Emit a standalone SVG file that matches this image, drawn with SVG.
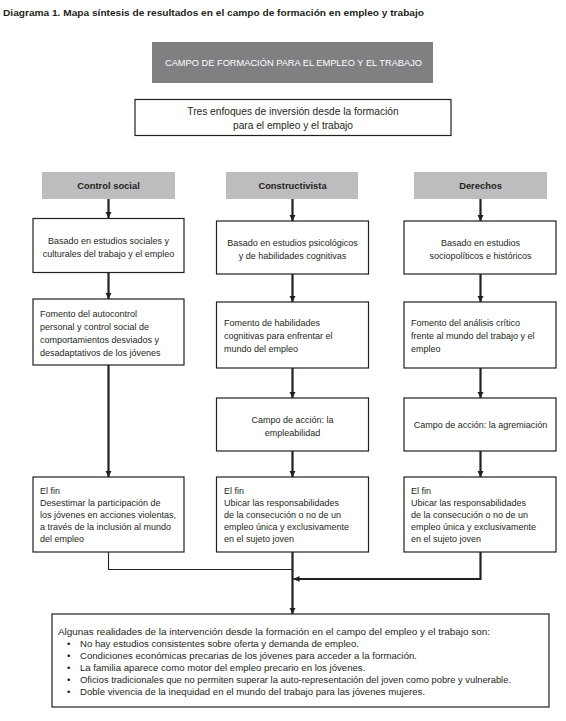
<svg xmlns="http://www.w3.org/2000/svg" width="566" height="721" viewBox="0 0 566 721">
<defs>
<style>
text{font-family:"Liberation Sans",Arial,sans-serif;fill:#231f20;}
.title{font-size:9.6px;font-weight:bold;}
.hdr{font-size:9.4px;fill:#ffffff;}
.col{font-size:9.4px;font-weight:bold;text-anchor:middle;}
.t{font-size:9px;}
.tb{font-size:9.6px;}
.tt{font-size:10.2px;}
.c{text-anchor:middle;}
.box{fill:#ffffff;stroke:#231f20;stroke-width:1.2;}
.gray{fill:#808083;}
.lgray{fill:#bdbdbf;}
.ln{fill:none;stroke:#231f20;stroke-width:2.2;}
.thin{fill:none;stroke:#231f20;stroke-width:1.1;}
</style>
<marker id="ah" viewBox="0 0 10 10" refX="10" refY="5" markerUnits="userSpaceOnUse" markerWidth="6" markerHeight="10" orient="auto">
<path d="M0,0 L10,5 L0,10 z" fill="#231f20"/>
</marker>
</defs>
<rect width="566" height="721" fill="#ffffff"/>
<text class="title" x="3" y="16" textLength="421" lengthAdjust="spacingAndGlyphs">Diagrama 1. Mapa síntesis de resultados en el campo de formación en empleo y trabajo</text>

<g id="n-campo">
<rect class="gray" x="152" y="42" width="281" height="41"/>
<text class="hdr" x="165" y="65.5" textLength="257" lengthAdjust="spacingAndGlyphs">CAMPO DE FORMACIÓN PARA EL EMPLEO Y EL TRABAJO</text>
</g>
<g id="n-tres">
<rect class="box" x="135" y="99.5" width="316" height="36"/>
<text class="tt c" x="293" y="115">Tres enfoques de inversión desde la formación</text>
<text class="tt c" x="293" y="128.5">para el empleo y el trabajo</text>
</g>

<g id="h-control"><rect class="lgray" x="42" y="172" width="133" height="27"/><text class="col" x="108.5" y="189">Control social</text></g>
<g id="h-constr"><rect class="lgray" x="226" y="172" width="132" height="27"/><text class="col" x="292.5" y="189">Constructivista</text></g>
<g id="h-derechos"><rect class="lgray" x="414" y="172" width="133" height="27"/><text class="col" x="480.5" y="189">Derechos</text></g>

<g id="n-cs1"><rect class="box" x="33" y="218.5" width="151" height="54"/>
<text class="t c" x="108.5" y="244">Basado en estudios sociales y</text>
<text class="t c" x="108.5" y="257">culturales del trabajo y el empleo</text></g>
<g id="n-cv1"><rect class="box" x="216.5" y="221" width="152" height="53"/>
<text class="t c" x="292.5" y="246">Basado en estudios psicológicos</text>
<text class="t c" x="292.5" y="259">y de habilidades cognitivas</text></g>
<g id="n-de1"><rect class="box" x="404" y="221" width="152" height="53"/>
<text class="t c" x="480.5" y="246">Basado en estudios</text>
<text class="t c" x="480.5" y="259">sociopolíticos e históricos</text></g>

<g id="n-cs2"><rect class="box" x="33" y="299" width="151" height="66"/>
<text class="t" x="40" y="317">Fomento del autocontrol</text>
<text class="t" x="40" y="330">personal y control social de</text>
<text class="t" x="40" y="343">comportamientos desviados y</text>
<text class="t" x="40" y="356">desadaptativos de los jóvenes</text></g>
<g id="n-cv2"><rect class="box" x="216.5" y="302" width="152" height="66"/>
<text class="t" x="224" y="326">Fomento de habilidades</text>
<text class="t" x="224" y="339">cognitivas para enfrentar el</text>
<text class="t" x="224" y="352">mundo del empleo</text></g>
<g id="n-de2"><rect class="box" x="404" y="302" width="152" height="66"/>
<text class="t" x="411" y="326">Fomento del análisis crítico</text>
<text class="t" x="411" y="339">frente al mundo del trabajo y el</text>
<text class="t" x="411" y="352">empleo</text></g>

<g id="n-cv3"><rect class="box" x="216.5" y="398" width="152" height="53"/>
<text class="t c" x="292.5" y="423">Campo de acción: la</text>
<text class="t c" x="292.5" y="436">empleabilidad</text></g>
<g id="n-de3"><rect class="box" x="404" y="398" width="152" height="53"/>
<text class="t c" x="480.5" y="427.5">Campo de acción: la agremiación</text></g>

<g id="n-cs4"><rect class="box" x="33" y="477" width="151" height="75"/>
<text class="t" x="40" y="494">El fin</text>
<text class="t" x="40" y="506">Desestimar la participación de</text>
<text class="t" x="40" y="518">los jóvenes en acciones violentas,</text>
<text class="t" x="40" y="530">a través de la inclusión al mundo</text>
<text class="t" x="40" y="542">del empleo</text></g>
<g id="n-cv4"><rect class="box" x="216.5" y="477" width="152" height="75"/>
<text class="t" x="224" y="494">El fin</text>
<text class="t" x="224" y="506">Ubicar las responsabilidades</text>
<text class="t" x="224" y="518">de la consecución o no de un</text>
<text class="t" x="224" y="530">empleo única y exclusivamente</text>
<text class="t" x="224" y="542">en el sujeto joven</text></g>
<g id="n-de4"><rect class="box" x="404" y="477" width="152" height="75"/>
<text class="t" x="411" y="494">El fin</text>
<text class="t" x="411" y="506">Ubicar las responsabilidades</text>
<text class="t" x="411" y="518">de la consecución o no de un</text>
<text class="t" x="411" y="530">empleo única y exclusivamente</text>
<text class="t" x="411" y="542">en el sujeto joven</text></g>

<g id="n-bottom"><rect class="box" x="52" y="614" width="497" height="93"/>
<text class="tb" x="58" y="634.5" textLength="432" lengthAdjust="spacingAndGlyphs">Algunas realidades de la intervención desde la formación en el campo del empleo y el trabajo son:</text>
<text class="tb" x="67" y="646.5">•</text><text class="tb" x="80" y="646.5">No hay estudios consistentes sobre oferta y demanda de empleo.</text>
<text class="tb" x="67" y="658.5">•</text><text class="tb" x="80" y="658.5">Condiciones económicas precarias de los jóvenes para acceder a la formación.</text>
<text class="tb" x="67" y="670.5">•</text><text class="tb" x="80" y="670.5">La familia aparece como motor del empleo precario en los jóvenes.</text>
<text class="tb" x="67" y="682.5">•</text><text class="tb" x="80" y="682.5" textLength="431" lengthAdjust="spacingAndGlyphs">Oficios tradicionales que no permiten superar la auto-representación del joven como pobre y vulnerable.</text>
<text class="tb" x="67" y="694.5">•</text><text class="tb" x="80" y="694.5">Doble vivencia de la inequidad en el mundo del trabajo para las jóvenes mujeres.</text></g>

<g id="connectors">
<line class="ln" x1="108.5" y1="199" x2="108.5" y2="218" marker-end="url(#ah)"/>
<line class="ln" x1="108.5" y1="273" x2="108.5" y2="299" marker-end="url(#ah)"/>
<line class="ln" x1="108.5" y1="365" x2="108.5" y2="477" marker-end="url(#ah)"/>
<line class="ln" x1="292.5" y1="199" x2="292.5" y2="221" marker-end="url(#ah)"/>
<line class="ln" x1="292.5" y1="274" x2="292.5" y2="302" marker-end="url(#ah)"/>
<line class="ln" x1="292.5" y1="368" x2="292.5" y2="398" marker-end="url(#ah)"/>
<line class="ln" x1="292.5" y1="451" x2="292.5" y2="477" marker-end="url(#ah)"/>
<line class="ln" x1="292.5" y1="552" x2="292.5" y2="614" marker-end="url(#ah)"/>
<line class="ln" x1="480.5" y1="199" x2="480.5" y2="221" marker-end="url(#ah)"/>
<line class="ln" x1="480.5" y1="274" x2="480.5" y2="302" marker-end="url(#ah)"/>
<line class="ln" x1="480.5" y1="368" x2="480.5" y2="398" marker-end="url(#ah)"/>
<line class="ln" x1="480.5" y1="451" x2="480.5" y2="477" marker-end="url(#ah)"/>
<polyline class="ln" points="480.5,552 480.5,579 293.5,579" marker-end="url(#ah)"/>
<polyline class="thin" points="108.5,552 108.5,569.5 292.5,569.5"/>
</g>
</svg>
